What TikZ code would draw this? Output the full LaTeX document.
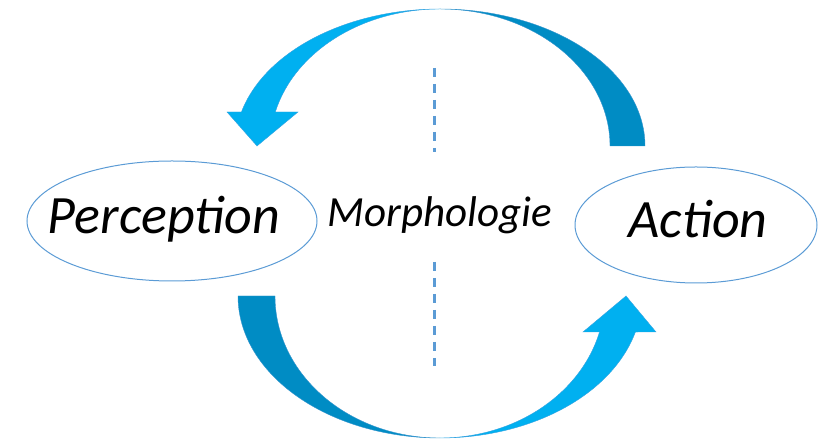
\documentclass[tikz,border=0pt]{standalone}
\usepackage{fontspec}
\setmainfont{Carlito}
\definecolor{lightb}{HTML}{00B0F0}
\definecolor{darkb}{HTML}{008CC4}
\definecolor{edgeb}{HTML}{5B9BD5}
\begin{document}
\begin{tikzpicture}[x=1pt,y=1pt,
  lbl/.style={font=\itshape\fontsize{54}{64}\selectfont,inner sep=0pt},
  midlbl/.style={font=\itshape\fontsize{43}{52}\selectfont,inner sep=0pt},
  dashline/.style={draw=edgeb,line width=3pt,dash pattern=on 9pt off 7pt},
  ellline/.style={draw=edgeb,line width=1pt},
  darkpart/.style={fill=darkb,draw=edgeb!60!darkb,line width=0.4pt},
  lightpart/.style={fill=lightb,draw=edgeb!60!lightb,line width=0.4pt}]
\useasboundingbox (0,0) rectangle (822,441);
% ellipses
\draw[ellline] (172,220) ellipse [x radius=145pt, y radius=60pt];
\draw[ellline] (696,216) ellipse [x radius=121pt, y radius=58pt];
\node[lbl] (perc) at (164,222) {Perception};
\node[lbl] (act) at (698,222) {Action};
\node[midlbl] (morph) at (440,226) {Morphologie};
% dashed lines
\coordinate (d1a) at (434,373);
\coordinate (d1b) at (434,289);
\coordinate (d2a) at (434,179);
\coordinate (d2b) at (434,75);
\draw[dashline] (d1a) -- (d1b);
\draw[dashline] (d2a) -- (d2b);
% top arrow: right (dark) crescent
\path[darkpart] (645,295) arc[start angle=0,end angle=90,x radius=205pt,y radius=137pt]
  arc[start angle=90,end angle=0,x radius=170pt,y radius=137pt] -- cycle;
% top arrow: left (light) crescent with head
\path[lightpart] (440,432) arc[start angle=90,end angle=165.63,x radius=205pt,y radius=137pt]
  -- (227,329) -- (257,295) -- (298,329) -- (275.3,329)
  arc[start angle=165.63,end angle=90,x radius=170pt,y radius=137pt] -- cycle;
% bottom arrow: left (dark) crescent
\path[darkpart] (238,145) arc[start angle=180,end angle=270,x radius=202pt,y radius=142pt]
  arc[start angle=270,end angle=180,x radius=165pt,y radius=142pt] -- cycle;
% bottom arrow: right (light) crescent with head
\path[lightpart] (440,3) arc[start angle=270,end angle=345.31,x radius=202pt,y radius=142pt]
  -- (656,109) -- (626,145) -- (583,109) -- (599.5,109)
  arc[start angle=345.31,end angle=270,x radius=165pt,y radius=142pt] -- cycle;
\end{tikzpicture}
\end{document}
